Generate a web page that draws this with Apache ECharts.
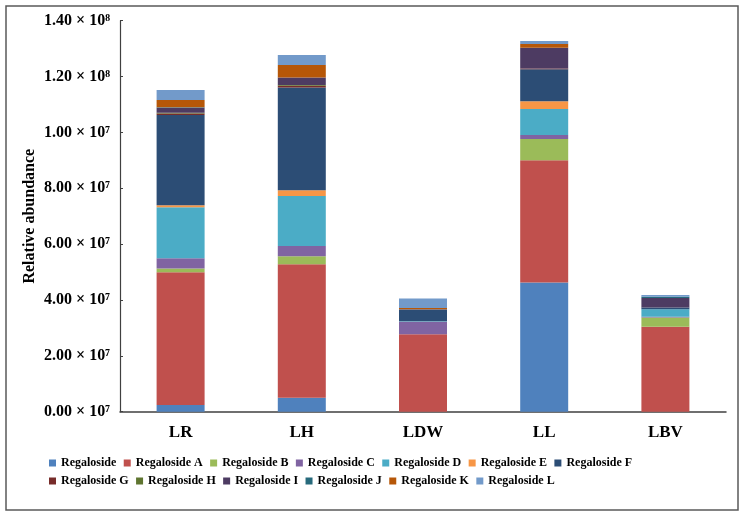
<!DOCTYPE html>
<html>
<head>
<meta charset="utf-8">
<script src="https://cdn.jsdelivr.net/npm/echarts@6/dist/echarts.min.js"></script>
<style>
  html, body { margin: 0; padding: 0; background: #fff; }
  #chart { width: 743px; height: 518px; }
</style>
</head>
<body>
<div id="chart"></div>
<script>
// values in units of 1e6
const categories = ['LR', 'LH', 'LDW', 'LL', 'LBV'];
const seriesNames = [
  'Regaloside', 'Regaloside A', 'Regaloside B', 'Regaloside C', 'Regaloside D',
  'Regaloside E', 'Regaloside F', 'Regaloside G', 'Regaloside H', 'Regaloside I',
  'Regaloside J', 'Regaloside K', 'Regaloside L'
];
const regaloside  = [2.4, 5.0, 0, 46.3, 0];
const regalosideA = [47.5, 47.8, 27.7, 43.7, 30.4];
const regalosideB = [1.4, 2.9, 0, 7.6, 3.3];
const regalosideC = [3.6, 3.6, 4.5, 1.5, 0.3];
const regalosideD = [18.3, 17.9, 0.2, 9.3, 2.7];
const regalosideE = [0.7, 2.1, 0, 2.8, 0];
const regalosideF = [32.3, 36.8, 4.2, 11.4, 0.6];
const regalosideG = [0.6, 0.6, 0, 0.3, 0];
const regalosideH = [0.2, 0.3, 0, 0, 0];
const regalosideI = [1.8, 2.7, 0.1, 7.4, 3.4];
const regalosideJ = [0.2, 0, 0, 0, 0.5];
const regalosideK = [2.6, 4.4, 0.4, 1.4, 0];
const regalosideL = [3.6, 3.6, 3.4, 1.0, 0.6];
const yTickLabels = [
  '0.00 × 10⁷', '2.00 × 10⁷', '4.00 × 10⁷', '6.00 × 10⁷',
  '8.00 × 10⁷', '1.00 × 10⁷', '1.20 × 10⁸', '1.40 × 10⁸'
];

const allValues = [regaloside, regalosideA, regalosideB, regalosideC, regalosideD,
  regalosideE, regalosideF, regalosideG, regalosideH, regalosideI,
  regalosideJ, regalosideK, regalosideL];
const colors = ['#4F81BD', '#C0504D', '#9BBB59', '#8064A2', '#4BACC6', '#F79646',
  '#2C4D75', '#772C2A', '#5F7530', '#4D3B62', '#276A7C', '#B65708', '#729ACA'];

const serif = '"Liberation Serif", "Times New Roman", serif';

const chart = echarts.init(document.getElementById('chart'));

const legendBase = {
  left: 44,
  itemWidth: 7,
  itemHeight: 7,
  itemGap: 7.4,
  icon: 'rect',
  selectedMode: false,
  textStyle: { fontFamily: serif, fontWeight: 'bold', fontSize: 12, color: '#000', width: 78 }
};

const option = {
  backgroundColor: '#fff',
  animation: false,
  color: colors,
  graphic: [{
    type: 'rect',
    shape: { x: 6, y: 6, width: 732, height: 504 },
    style: { fill: 'none', stroke: '#595959', lineWidth: 1.5 },
    silent: true
  }],
  grid: { left: 120, right: 17, top: 20.7, bottom: 106.3 },
  legend: [
    Object.assign({}, legendBase, { top: 452, data: seriesNames.slice(0, 7) }),
    Object.assign({}, legendBase, { top: 470, data: seriesNames.slice(7) })
  ],
  xAxis: {
    type: 'category',
    data: categories,
    axisLine: { lineStyle: { color: '#404040', width: 1.5 } },
    axisTick: { show: false },
    axisLabel: { fontFamily: serif, fontWeight: 'bold', fontSize: 17, color: '#000', margin: 12 }
  },
  yAxis: {
    type: 'value',
    min: 0,
    max: 140,
    interval: 20,
    name: 'Relative abundance',
    nameLocation: 'middle',
    nameGap: 82,
    nameMoveOverlap: false,
    nameTextStyle: { fontFamily: serif, fontWeight: 'bold', fontSize: 16, color: '#000' },
    axisLine: { show: true, lineStyle: { color: '#404040', width: 1.2 } },
    axisTick: { show: true, inside: true, length: 3, lineStyle: { color: '#404040' } },
    splitLine: { show: false },
    axisLabel: {
      fontFamily: serif, fontWeight: 'bold', fontSize: 16, color: '#000', margin: 10,
      formatter: (v) => yTickLabels[Math.round(v / 20)]
    }
  },
  series: seriesNames.map((name, i) => ({
    name: name,
    type: 'bar',
    stack: 'total',
    barWidth: 48,
    data: allValues[i]
  }))
};

chart.setOption(option);
</script>
</body>
</html>
